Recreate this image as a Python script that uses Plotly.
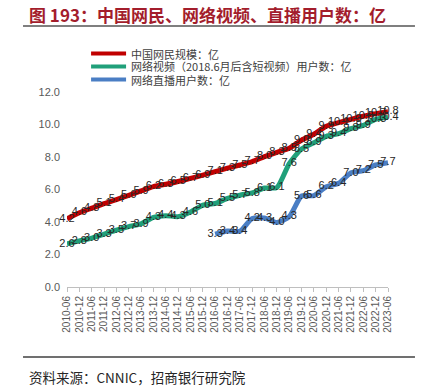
import plotly.graph_objects as go

categories = ["2010-06", "2010-12", "2011-06", "2011-12", "2012-06", "2012-12",
              "2013-06", "2013-12", "2014-06", "2014-12", "2015-06", "2015-12",
              "2016-06", "2016-12", "2017-06", "2017-12", "2018-06", "2018-12",
              "2019-06", "2019-12", "2020-06", "2020-12", "2021-06", "2021-12",
              "2022-06", "2022-12", "2023-06"]

netizens = [4.20, 4.57, 4.85, 5.13, 5.38, 5.64, 5.91, 6.18, 6.32, 6.49, 6.68, 6.88,
            7.10, 7.31, 7.51, 7.72, 8.02, 8.29, 8.54, 9.04, 9.40, 9.89, 10.11, 10.32,
            10.51, 10.67, 10.79]

video_users = [2.65, 2.84, 3.01, 3.25, 3.50, 3.72, 3.89, 4.28, 4.39, 4.33, 4.61, 5.04,
               5.14, 5.45, 5.65, 5.79, 6.09, 6.12, 7.59, 8.50, 8.88, 9.27, 9.44, 9.75,
               9.95, 10.31, 10.44]

live_categories = categories[12:]
live_users = [3.25, 3.44, 3.43, 4.22, 4.25, 3.97, 4.33, 5.60, 5.62, 6.17, 6.38, 7.03,
              7.16, 7.51, 7.65]

series_names = ["中国网民规模：亿", "网络视频（2018.6月后含短视频）用户数：亿", "网络直播用户数：亿"]
colors = ["#C00000", "#20A07A", "#4A7EC4"]

y_ticks = [0, 2, 4, 6, 8, 10, 12]

label_font = dict(family="Liberation Sans, Arial, sans-serif", size=11, color="#262626")

fig = go.Figure()
for xs, ys, name, col in [(categories, netizens, series_names[0], colors[0]),
                          (categories, video_users, series_names[1], colors[1]),
                          (live_categories, live_users, series_names[2], colors[2])]:
    fig.add_trace(go.Scatter(
        x=xs, y=ys, name=name, mode="lines+text",
        line=dict(color=col, width=5, shape="spline", smoothing=0.6),
        texttemplate="%{y:.1f}", textposition="middle center",
        textfont=label_font, cliponaxis=False, showlegend=False,
    ))

fig.update_layout(
    width=431, height=390,
    margin=dict(l=67, r=43, t=92, b=103),
    paper_bgcolor="white", plot_bgcolor="white",
    font=dict(family="Noto Sans CJK SC, sans-serif", color="#404040"),
)
fig.update_xaxes(
    type="category", categoryorder="array", categoryarray=categories,
    range=[0, len(categories) - 1],
    showline=True, linecolor="#BFBFBF", linewidth=1,
    ticks="outside", ticklen=4, tickcolor="#BFBFBF",
    tickangle=-90, tickfont=dict(family="Liberation Sans, Arial, sans-serif", size=10, color="#595959"),
    showgrid=False, zeroline=False,
)
fig.update_yaxes(
    range=[0, 12], tickvals=y_ticks, tickformat=".1f",
    tickfont=dict(family="Liberation Sans, Arial, sans-serif", size=11, color="#595959"),
    showgrid=False, zeroline=False, showline=False, ticks="", ticklabelstandoff=6,
)

# Title
fig.add_annotation(xref="paper", yref="paper", x=-0.125, y=1.395, xanchor="left", yanchor="middle",
                   text="<b>图 193：中国网民、网络视频、直播用户数：亿</b>", showarrow=False,
                   font=dict(family="Noto Sans CJK SC, sans-serif", size=17, color="#A31D2C"))
fig.add_shape(type="line", xref="paper", yref="paper", x0=-0.137, x1=1.084, y0=1.338, y1=1.338,
              line=dict(color="#7F7F7F", width=2))

# Manual legend
legend_rows = [1.197, 1.131, 1.064]
for name, col, yy in zip(series_names, colors, legend_rows):
    fig.add_shape(type="line", xref="paper", yref="paper", x0=0.075, x1=0.184, y0=yy, y1=yy,
                  line=dict(color=col, width=4))
    fig.add_annotation(xref="paper", yref="paper", x=0.193, y=yy, xanchor="left", yanchor="middle",
                       text=name, showarrow=False,
                       font=dict(family="Noto Sans CJK SC, sans-serif", size=11, color="#404040"))

# Bottom rule and source
fig.add_shape(type="line", xref="paper", yref="paper", x0=-0.137, x1=1.084, y0=-0.359, y1=-0.359,
              line=dict(color="#404040", width=1.5))
fig.add_annotation(xref="paper", yref="paper", x=-0.125, y=-0.462, xanchor="left", yanchor="middle",
                   text="资料来源：CNNIC，招商银行研究院", showarrow=False,
                   font=dict(family="Noto Sans CJK SC, sans-serif", size=13.5, color="#262626"))

fig.write_html("out.html", config={"displayModeBar": False},
               post_script="document.body.style.margin='0';document.body.style.overflow='hidden';")
